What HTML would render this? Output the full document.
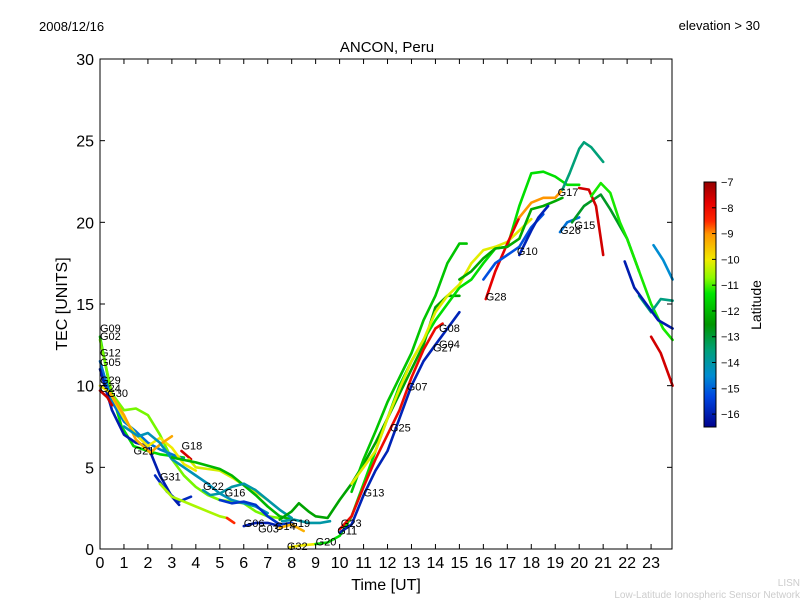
<!DOCTYPE html>
<html><head><meta charset="utf-8"><style>
body{margin:0;background:#fff;}
svg text{font-family:"Liberation Sans","DejaVu Sans",sans-serif;}
</style></head><body>
<svg id="chart" width="800" height="600" xmlns="http://www.w3.org/2000/svg">
<rect width="800" height="600" fill="#fff"/>
<text x="39" y="31" font-size="13">2008/12/16</text>
<text x="760" y="30" font-size="13" text-anchor="end">elevation &gt; 30</text>
<text x="387" y="52" font-size="15" text-anchor="middle">ANCON, Peru</text>
<text x="386" y="590" font-size="16" text-anchor="middle">Time [UT]</text>
<text transform="translate(67,304) rotate(-90)" font-size="16" text-anchor="middle">TEC [UNITS]</text>
<text x="800" y="586" font-size="10" fill="#ccc" text-anchor="end">LISN</text>
<text x="800" y="598" font-size="10" fill="#ccc" text-anchor="end">Low-Latitude Ionospheric Sensor Network</text>
<g id="series"></g>
<g id="labels"></g>
<g id="axes"></g>
<defs><linearGradient id="cbgrad" x1="0" y1="1" x2="0" y2="0" id2="x"></linearGradient></defs>
<g id="cbar"></g>
</svg>
<script>
// ---- data ----
const xTicks = [0,1,2,3,4,5,6,7,8,9,10,11,12,13,14,15,16,17,18,19,20,21,22,23];
const yTicks = [0,5,10,15,20,25,30];
const cbTicks = [-7,-8,-9,-10,-11,-12,-13,-14,-15,-16];
const seriesLat = [-11.5,-10.8,-14.8,-16,-10,-9.2,-7.5,-14.2,-7.6,-10.2,-12,-15.8,-10.5,-8.5,-14,-15.6,-16,-9.3,-14,-12.3,-10,-11.4,-8,-15.9,-11.8,-10.1,-7.8,-15.2,-12.2,-9,-13.5,-14.8,-12.8,-15.9,-7.6,-11.2,-13.6,-16,-14.5];
const seriesPts = [
 [[0,13],[0.4,10],[0.9,7.5],[1.4,6.3],[2,6.0],[2.5,5.8],[3,5.7],[3.5,5.6]],
 [[0,12.8],[0.5,9.5],[1,8.5],[1.5,8.6],[2,8.2],[2.5,7],[3,5.5],[3.5,4.5],[4,3.8],[4.5,3.3],[5,3.0],[5.5,2.9],[6,2.8],[6.5,2.3],[7,2.0],[7.5,1.9]],
 [[0,11.5],[0.5,9],[1,7.8],[1.5,7.2],[2,6.5],[2.5,6.1],[3,5.8],[3.5,5.5]],
 [[0,11],[0.5,8.5],[1,7],[1.5,6.5],[2,6.3],[2.5,4.5],[3,3.2],[3.3,2.7]],
 [[0,10],[0.4,9.6],[1,8],[1.5,7],[2,6.3],[2.5,6.8],[3,6.2],[3.5,5.2],[4,4.8]],
 [[0.4,9.6],[1,8.2],[1.5,6.7],[2.1,5.9],[2.6,6.5],[3,6.9]],
 [[0,9.7],[0.3,9.3],[0.5,8.8]],
 [[1,7.5],[1.6,6.9],[2,7.1],[2.5,6.5],[3,5.5],[3.5,5],[4,4.5],[4.5,4.0],[5,3.4],[5.5,3.0],[6,2.8],[6.5,2.6],[7,2.2]],
 [[3.4,6.0],[3.8,5.5]],
 [[3.7,5.5],[4,5],[4.5,4.9],[5,4.8],[5.6,4.3],[6,3.9],[6.5,3.5],[7,3.0]],
 [[3,5.6],[4,5.3],[5,4.9],[5.5,4.5],[6,3.9],[6.5,3.3],[7,2.6],[7.5,2],[8,1.8]],
 [[2.3,4.5],[2.8,3.5],[3.3,2.9],[3.8,3.2]],
 [[2.5,4],[3,3.2],[3.5,2.9],[4,2.6],[4.5,2.3],[5,2.0],[5.3,1.9]],
 [[5.3,1.9],[5.6,1.6]],
 [[4.3,3.6],[4.6,3.3],[5,3.4],[5.5,3.8],[6,4.0],[6.5,3.6],[7,3.0],[7.5,2.4],[8,1.9]],
 [[5,3.0],[5.5,2.8],[6,2.9],[6.5,2.7],[7,2.0],[7.5,1.5],[8,1.6]],
 [[6,1.4],[6.5,1.6],[7,1.6],[7.5,1.4]],
 [[7.5,1.3],[8,1.5],[8.5,1.1]],
 [[7.6,1.7],[8.1,1.8],[8.7,1.6],[9.2,1.6],[9.6,1.7]],
 [[7.5,1.8],[8,2.3],[8.3,2.8],[8.7,2.3],[9,2.0],[9.5,1.9],[10,3],[10.5,4],[11,5.2],[11.5,6.5],[12,8],[12.5,9.5],[13,11],[13.5,12.5],[14,14.8],[14.5,15.5],[15,15.5]],
 [[7.9,0.1],[8.3,0.2],[9,0.3]],
 [[9,0.3],[9.5,0.4],[10,0.8],[10.5,2],[11,4],[11.5,6],[12,8],[12.5,10],[13,11.5],[13.5,12.8],[14,14],[14.5,15],[15,16],[15.5,16.5],[16,17.5],[16.5,18.4],[17,18.5],[17.5,21],[18,23],[18.5,23.1],[19,22.8],[19.5,22.3],[20,22.3]],
 [[10,1.2],[10.5,2],[11,3.8],[11.5,5.5],[12,7],[12.5,8.5],[13,10.5],[13.5,12.2],[14,13.5],[14.3,13.8]],
 [[10,1.0],[10.5,1.5],[11,3.3],[11.5,4.8],[12,6],[12.5,8],[13,10],[13.5,11.5],[14,12.5],[14.5,13.5],[15,14.5]],
 [[10.5,3.5],[11,5.5],[11.5,7.2],[12,9],[12.5,10.5],[13,12],[13.5,14],[14,15.5],[14.5,17.5],[15,18.7],[15.3,18.7]],
 [[10.5,4],[11,5],[11.5,6],[12,8],[12.5,9.8],[13,11.5],[13.5,12.8],[14,14.5],[14.5,15.5],[15,16.2],[15.5,17.5],[16,18.3],[16.5,18.5],[17,18.8],[17.5,19.5],[18,20.2]],
 [[16.1,15.3],[16.5,17],[17,18.7],[17.5,20.3]],
 [[16,16.5],[16.5,17.5],[17,18],[17.5,18.5],[18,19.7],[18.5,20.5]],
 [[15,16.5],[15.5,17],[16,17.8],[16.5,18.4],[17,18.5],[17.5,19],[18,20.8],[18.5,21],[19,21.3],[19.3,21.5]],
 [[17.5,20.3],[18,21.2],[18.5,21.5],[19,21.5],[19.3,22]],
 [[19.3,22],[19.6,23],[20,24.5],[20.2,24.9],[20.5,24.6],[21,23.7]],
 [[19.2,19.4],[19.5,20],[20,20.3]],
 [[19.7,20],[20.2,21],[20.5,21.3],[20.9,21.7],[21.3,20.8],[22,19],[22.5,17]],
 [[17.5,18],[18,19.5],[18.3,20.3],[18.7,21]],
 [[20,22.1],[20.4,22],[20.7,21],[21,18]],
 [[20.5,21.6],[20.9,22.4],[21.3,21.8],[21.7,20],[22,19],[22.5,17],[23,15],[23.5,13.5],[23.9,12.8]],
 [[22.5,15.5],[23,14.5],[23.4,15.3],[23.9,15.2]],
 [[21.9,17.6],[22.3,16],[22.8,15],[23.3,14],[23.9,13.5]],
 [[23.1,18.6],[23.5,17.7],[23.9,16.5]]
];
const redTail = [[23,13],[23.4,12],[23.9,10]];
const labelNames = ["G09","G02","G12","G05","G29","G24","G30","G21","G18","G31","G22","G16","G06","G03","G14","G19","G32","G20","G23","G11","G13","G25","G07","G27","G04","G08","G28","G10","G17","G26","G15"];
const labelT = [0,0,0,0,0,0,0.3,1.4,3.4,2.5,4.3,5.2,6.0,6.6,7.3,7.9,7.8,9.0,10.05,9.9,11,12.1,12.8,13.9,14.15,14.15,16.1,17.4,19.1,19.2,19.8];
const labelV = [13.3,12.8,11.8,11.2,10.1,9.6,9.3,5.8,6.1,4.2,3.6,3.2,1.35,1.0,1.15,1.35,-0.05,0.2,1.35,0.9,3.2,7.2,9.7,12.1,12.3,13.3,15.2,18,21.6,19.3,19.6];

// ---- axes ----
const X0=100,X1=672,Y0=549,Y1=59;
const xs=t=>X0+t*23.96;
const ys=v=>Y0-(v/30)*(Y0-Y1);
const CB0=182,CB1=427,CBmin=-16.5,CBmax=-7;
const cbs=l=>CB0+(CBmax-l)/(CBmax-CBmin)*(CB1-CB0);
const stops=[[-7,[150,0,0]],[-7.8,[230,0,0]],[-8.5,[255,40,0]],[-9,[255,150,0]],[-10,[240,235,0]],[-10.7,[140,250,0]],[-11.3,[0,230,0]],[-12.5,[0,150,0]],[-13.5,[0,160,120]],[-14.5,[0,140,210]],[-15.3,[0,70,225]],[-16.5,[0,0,140]]];
function col(l){
 for(let i=0;i<stops.length-1;i++){const a=stops[i],b=stops[i+1];
  if(l<=a[0]&&l>=b[0]){const f=(a[0]-l)/(a[0]-b[0]);return 'rgb('+a[1].map((c,k)=>Math.round(c+(b[1][k]-c)*f)).join(',')+')';}}
 return l>-7?'rgb(150,0,0)':'rgb(0,0,140)';
}
const NS='http://www.w3.org/2000/svg';
function mk(tag,attrs,parent){const e=document.createElementNS(NS,tag);for(const k in attrs)e.setAttribute(k,attrs[k]);parent.appendChild(e);return e;}
const gS=document.getElementById('series');
function drawLine(pts,lat,i){
 const p=mk('polyline',{points:pts.map(q=>xs(q[0]).toFixed(1)+','+ys(q[1]).toFixed(1)).join(' '),fill:'none',stroke:col(lat),'stroke-width':2.6,'stroke-linejoin':'round','stroke-linecap':'round'},gS);
 
 
}
seriesPts.forEach((pts,i)=>drawLine(pts,seriesLat[i],i));
drawLine(redTail,-7.6,'red-tail');
const gL=document.getElementById('labels');
labelNames.forEach((n,i)=>{
 const t=mk('text',{x:xs(labelT[i]),y:ys(labelV[i]),'font-size':11},gL);t.textContent=n;
 
 
});
const gA=document.getElementById('axes');
const fr=mk('rect',{x:X0,y:Y1,width:X1-X0,height:Y0-Y1,fill:'none',stroke:'#000','stroke-width':1},gA);


xTicks.forEach(t=>{
 const x=xs(t);
 mk('line',{x1:x,x2:x,y1:Y0,y2:Y0-5,stroke:'#000'},gA);
 mk('line',{x1:x,x2:x,y1:Y1,y2:Y1+5,stroke:'#000'},gA);
 const l=mk('text',{x:x,y:Y0+19,'font-size':16,'text-anchor':'middle'},gA);l.textContent=t;
 
 
});
yTicks.forEach(v=>{
 const y=ys(v);
 mk('line',{x1:X0,x2:X0+5,y1:y,y2:y,stroke:'#000'},gA);
 mk('line',{x1:X1,x2:X1-5,y1:y,y2:y,stroke:'#000'},gA);
 const l=mk('text',{x:X0-6,y:y+6,'font-size':16,'text-anchor':'end'},gA);l.textContent=v;
 
 
});
// colorbar
const gC=document.getElementById('cbar');
for(let py=CB0;py<CB1;py+=1){
 const l=CBmax-(py-CB0)/(CB1-CB0)*(CBmax-CBmin);
 mk('rect',{x:704,y:py,width:12,height:1.2,fill:col(l)},gC);
}
const cbf=mk('rect',{x:704,y:CB0,width:12,height:CB1-CB0,fill:'none',stroke:'#000','stroke-width':1},gC);


cbTicks.forEach(v=>{
 const y=cbs(v);
 mk('line',{x1:712,x2:716,y1:y,y2:y,stroke:'#000'},gC);
 const l=mk('text',{x:721,y:y+4,'font-size':11},gC);l.textContent='\u2212'+Math.abs(v);
 
 
});
const ct=mk('text',{transform:'translate(761,305) rotate(-90)','font-size':14,'text-anchor':'middle'},gC);ct.textContent='Latitude';


</script>
</body></html>
